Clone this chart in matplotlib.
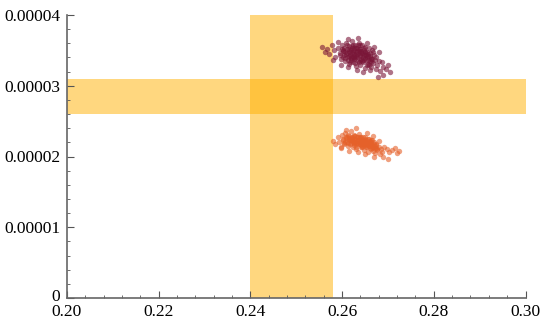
import numpy as np
import matplotlib
matplotlib.use('Agg')
import matplotlib.pyplot as plt
from matplotlib.ticker import MultipleLocator, FixedLocator, FuncFormatter
from matplotlib.transforms import ScaledTranslation

# dark red cluster (y in units of 1e-5)
red_x = [0.2556, 0.2563, 0.2571, 0.2578, 0.2582, 0.2585, 0.2590, 0.2592, 0.2595, 0.2597,
         0.2600, 0.2602, 0.2604, 0.2606, 0.2608, 0.2610, 0.2611, 0.2613, 0.2614, 0.2616,
         0.2617, 0.2618, 0.2620, 0.2621, 0.2622, 0.2623, 0.2624, 0.2626, 0.2627, 0.2628,
         0.2629, 0.2630, 0.2631, 0.2632, 0.2633, 0.2634, 0.2636, 0.2637, 0.2638, 0.2639,
         0.2640, 0.2641, 0.2643, 0.2644, 0.2645, 0.2646, 0.2648, 0.2649, 0.2650, 0.2651,
         0.2653, 0.2654, 0.2655, 0.2657, 0.2658, 0.2660, 0.2661, 0.2663, 0.2664, 0.2666,
         0.2667, 0.2669, 0.2671, 0.2673, 0.2675, 0.2677, 0.2680, 0.2683, 0.2686, 0.2690,
         0.2695, 0.2700, 0.2704, 0.2690, 0.2678, 0.2660, 0.2645, 0.2632, 0.2612, 0.2598,
         0.2580, 0.2568, 0.2612, 0.2635, 0.2655, 0.2670, 0.2680, 0.2626, 0.2619, 0.2640,
         0.2633, 0.2615, 0.2650, 0.2607, 0.2622, 0.2638, 0.2628, 0.2657,
         0.2595, 0.2601, 0.2605, 0.2609, 0.2612, 0.2616, 0.2619, 0.2621, 0.2624, 0.2627,
         0.2630, 0.2633, 0.2636, 0.2639, 0.2642, 0.2645, 0.2648, 0.2651, 0.2654, 0.2657,
         0.2660, 0.2663, 0.2603, 0.2610, 0.2618, 0.2625, 0.2631, 0.2637, 0.2644, 0.2650,
         0.2656, 0.2662, 0.2668, 0.2599, 0.2614, 0.2629, 0.2641, 0.2653, 0.2665, 0.2620,
         0.2635, 0.2647, 0.2659, 0.2607, 0.2623, 0.2638]
red_y = [3.55, 3.47, 3.45, 3.58, 3.50, 3.41, 3.62, 3.53, 3.46, 3.38,
         3.57, 3.49, 3.43, 3.35, 3.60, 3.52, 3.46, 3.40, 3.31, 3.56,
         3.48, 3.44, 3.37, 3.63, 3.53, 3.41, 3.33, 3.50, 3.45, 3.58,
         3.39, 3.28, 3.47, 3.54, 3.42, 3.35, 3.61, 3.49, 3.44, 3.30,
         3.52, 3.38, 3.46, 3.57, 3.41, 3.33, 3.50, 3.25, 3.44, 3.55,
         3.37, 3.48, 3.29, 3.42, 3.53, 3.35, 3.46, 3.39, 3.27, 3.50,
         3.32, 3.43, 3.36, 3.24, 3.40, 3.30, 3.35, 3.21, 3.33, 3.27,
         3.24, 3.30, 3.19, 3.15, 3.12, 3.22, 3.20, 3.22, 3.26, 3.30,
         3.37, 3.52, 3.66, 3.67, 3.60, 3.55, 3.47, 3.38, 3.50, 3.42,
         3.49, 3.42, 3.39, 3.48, 3.46, 3.36, 3.32, 3.31,
         3.44, 3.40, 3.54, 3.45, 3.36, 3.52, 3.41, 3.56, 3.47, 3.40,
         3.53, 3.45, 3.33, 3.58, 3.49, 3.37, 3.44, 3.48, 3.40, 3.36,
         3.42, 3.34, 3.51, 3.57, 3.33, 3.54, 3.41, 3.52, 3.35, 3.47,
         3.45, 3.38, 3.47, 3.52, 3.49, 3.43, 3.48, 3.43, 3.38, 3.39,
         3.57, 3.53, 3.30, 3.39, 3.58, 3.46]

# orange cluster (y in units of 1e-5)
orange_x = [0.2580, 0.2585, 0.2590, 0.2594, 0.2597, 0.2600, 0.2602, 0.2605, 0.2607, 0.2609,
            0.2611, 0.2613, 0.2615, 0.2617, 0.2619, 0.2620, 0.2622, 0.2623, 0.2625, 0.2626,
            0.2628, 0.2629, 0.2631, 0.2632, 0.2634, 0.2635, 0.2637, 0.2638, 0.2640, 0.2641,
            0.2642, 0.2644, 0.2645, 0.2647, 0.2648, 0.2650, 0.2651, 0.2653, 0.2654, 0.2656,
            0.2657, 0.2659, 0.2660, 0.2662, 0.2663, 0.2665, 0.2667, 0.2668, 0.2670, 0.2672,
            0.2673, 0.2675, 0.2677, 0.2680, 0.2682, 0.2685, 0.2688, 0.2692, 0.2697, 0.2702,
            0.2708, 0.2715, 0.2720, 0.2725, 0.2700, 0.2690, 0.2670, 0.2650, 0.2635, 0.2615,
            0.2598, 0.2608, 0.2630, 0.2655, 0.2668, 0.2680, 0.2646, 0.2638, 0.2652, 0.2632,
            0.2660, 0.2627, 0.2643, 0.2658, 0.2620, 0.2665, 0.2639, 0.2648, 0.2672, 0.2612,
            0.2601, 0.2606, 0.2610, 0.2614, 0.2618, 0.2621, 0.2624, 0.2627, 0.2630, 0.2633,
            0.2636, 0.2639, 0.2642, 0.2645, 0.2648, 0.2651, 0.2654, 0.2657, 0.2660, 0.2663,
            0.2666, 0.2669, 0.2604, 0.2612, 0.2619, 0.2626, 0.2634, 0.2641, 0.2649, 0.2656,
            0.2664, 0.2671, 0.2608, 0.2623, 0.2637, 0.2652, 0.2667, 0.2616, 0.2631, 0.2646,
            0.2661, 0.2676, 0.2628, 0.2644, 0.2659, 0.2674]
orange_y = [2.22, 2.17, 2.27, 2.20, 2.13, 2.30, 2.24, 2.18, 2.33, 2.26,
            2.21, 2.15, 2.29, 2.24, 2.19, 2.36, 2.27, 2.22, 2.16, 2.31,
            2.25, 2.20, 2.11, 2.28, 2.23, 2.17, 2.32, 2.26, 2.21, 2.14,
            2.28, 2.19, 2.24, 2.09, 2.16, 2.27, 2.21, 2.13, 2.18, 2.25,
            2.07, 2.15, 2.22, 2.11, 2.18, 2.24, 2.08, 2.14, 2.20, 2.05,
            2.12, 2.17, 2.09, 2.14, 2.04, 2.10, 2.07, 2.13, 2.10, 2.06,
            2.09, 2.12, 2.05, 2.08, 1.97, 2.00, 1.99, 2.03, 2.06, 2.08,
            2.12, 2.38, 2.40, 2.33, 2.29, 2.22, 2.18, 2.20, 2.16, 2.19,
            2.12, 2.23, 2.13, 2.19, 2.25, 2.16, 2.17, 2.22, 2.15, 2.19,
            2.25, 2.20, 2.28, 2.23, 2.17, 2.26, 2.21, 2.29, 2.18, 2.24,
            2.20, 2.27, 2.16, 2.23, 2.19, 2.25, 2.14, 2.21, 2.17, 2.23,
            2.12, 2.18, 2.19, 2.31, 2.23, 2.19, 2.27, 2.24, 2.20, 2.16,
            2.20, 2.12, 2.27, 2.13, 2.22, 2.23, 2.14, 2.26, 2.14, 2.27,
            2.19, 2.11, 2.29, 2.15, 2.25, 2.16]

# highlighted ranges
x_band = (0.240, 0.258)
y_band = (2.6e-5, 3.1e-5)

x_ticks = [0.20, 0.22, 0.24, 0.26, 0.28, 0.30]
y_ticks = [0, 1e-5, 2e-5, 3e-5, 4e-5]
y_labels = ['0', '0.00001', '0.00002', '0.00003', '0.00004']

plt.rcParams['font.family'] = ['Liberation Serif', 'DejaVu Serif']
plt.rcParams['font.size'] = 12.5

fig = plt.figure(figsize=(5.42, 3.22), dpi=100)
ax = fig.add_axes([67 / 542, 24 / 322, 458.5 / 542, 283 / 322])

ax.axvspan(*x_band, color='#FFB000', alpha=0.5, lw=0, zorder=1)
ax.axhspan(*y_band, color='#FFB000', alpha=0.5, lw=0, zorder=1)

ax.scatter(red_x, np.array(red_y) * 1e-5, s=15, color='#7A1638', alpha=0.6, lw=0, zorder=3)
ax.scatter(orange_x, np.array(orange_y) * 1e-5, s=15, color='#E5612A', alpha=0.6, lw=0, zorder=3)

ax.set_xlim(0.20, 0.30)
ax.set_ylim(0, 4e-5)
ax.xaxis.set_major_locator(FixedLocator(x_ticks))
ax.xaxis.set_major_formatter(FuncFormatter(lambda v, p: f'{v:.2f}'))
ax.xaxis.set_minor_locator(MultipleLocator(0.004))
ax.yaxis.set_major_locator(FixedLocator(y_ticks))
ax.set_yticklabels(y_labels)
ax.yaxis.set_minor_locator(MultipleLocator(2e-6))

for side in ['top', 'right']:
    ax.spines[side].set_visible(False)
for side in ['left', 'bottom']:
    ax.spines[side].set_color('#666666')
    ax.spines[side].set_linewidth(1.2)
ax.tick_params(which='both', direction='in', color='#555555', labelcolor='black')
ax.tick_params(which='major', length=5, width=0.8)
ax.tick_params(axis='x', which='major', pad=4.5)
ax.tick_params(axis='y', which='major', pad=5)
ax.tick_params(which='minor', length=2.5, width=0.6)

# nudge the "0" label up a little so it doesn't sit on top of "0.20"
zero_lab = ax.get_yticklabels()[0]
zero_lab.set_transform(zero_lab.get_transform() + ScaledTranslation(0, 3 / 100, fig.dpi_scale_trans))

fig.savefig('out.png', dpi=100)
